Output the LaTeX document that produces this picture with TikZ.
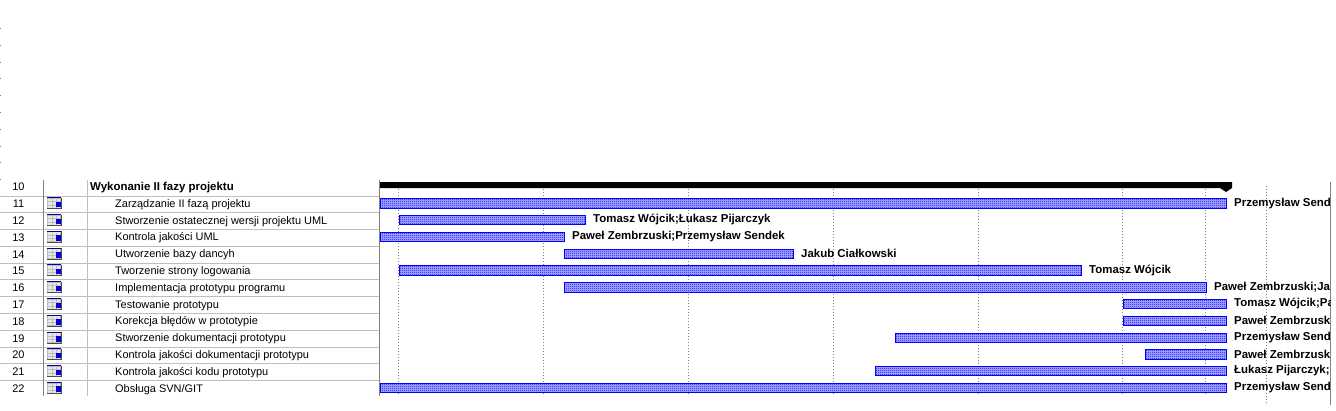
\documentclass[tikz,border=0pt]{standalone}
\usepackage{fontspec}
\setmainfont{Liberation Sans}
\usetikzlibrary{patterns}
\pgfdeclarepatternformonly{ganttcheck}{\pgfqpoint{0pt}{0pt}}{\pgfqpoint{2pt}{2pt}}{\pgfqpoint{2pt}{2pt}}{
    \pgfpathrectangle{\pgfqpoint{0pt}{0pt}}{\pgfqpoint{1pt}{1pt}}
    \pgfpathrectangle{\pgfqpoint{1pt}{1pt}}{\pgfqpoint{1pt}{1pt}}
    \pgfusepath{fill}
}
\definecolor{gridgray}{RGB}{190,190,190}
\definecolor{rulegray}{RGB}{128,128,128}
\definecolor{barblue}{RGB}{0,0,255}
\tikzset{
    rownum/.style={font=\fontsize{11}{12}\selectfont,anchor=center,inner sep=0pt},
    taskname/.style={font=\fontsize{10.97}{12}\selectfont,anchor=west,inner sep=0pt},
    whoname/.style={font=\bfseries\fontsize{11.45}{12}\selectfont,anchor=west,inner sep=0pt},
    ganttbar/.style={draw=barblue,line width=1pt,preaction={fill=barblue!30},pattern=ganttcheck,pattern color=barblue},
    daygrid/.style={rulegray,line width=1pt,dash pattern=on 1pt off 2pt},
}
\newcommand{\tabicon}[1]{
    \draw[fill=gridgray!35,draw=gridgray,line width=0.8pt] (47.5,#1-5) rectangle (60.5,#1+5);
    \draw[gridgray,line width=0.8pt] (52,#1-4) -- (52,#1+5) (56,#1-4) -- (56,#1+5)
        (47.5,#1-1.5) -- (60.5,#1-1.5) (47.5,#1+2) -- (60.5,#1+2);
    \draw[black!70,line width=1pt] (47,#1+5.5) -- (61,#1+5.5) -- (61,#1-5.5);
    \draw[barblue!60!black,line width=1pt] (47,#1-5.5) -- (61,#1-5.5);
    \fill[barblue!85!black] (56,#1-1.5) rectangle (60.5,#1+4);
}
\begin{document}
\begin{tikzpicture}[x=1pt,y=-1pt]
    \useasboundingbox (0,0) rectangle (1336,410);
    \fill[white] (0,0) rectangle (1336,410);

    % Kropki na lewym brzegu.
    \foreach \k in {0,...,9}{
        \fill[rulegray] (0,28+16.8*\k) rectangle (1,29+16.8*\k);
    }

    % Linie tabeli.
    \foreach \k in {0,...,11}{
        \draw[gridgray,line width=1pt] (0,196+16.79*\k) -- (379,196+16.79*\k);
    }
    \draw[rulegray,line width=1pt] (43,180) -- (43,396);
    \draw[gridgray,line width=1pt] (87.5,180) -- (87.5,396);
    \draw[rulegray,line width=1pt] (379.5,180) -- (379.5,396);

    % Pionowe linie czasu.
    \foreach \xx in {398.5,543.5,688.5,833.5,978.5,1122.5,1205.5}{
        \draw[daygrid] (\xx,186) -- (\xx,395);
    }
    \draw[daygrid] (1266.5,186) -- (1266.5,405);
    \draw[rulegray,line width=1pt] (1330.5,182) -- (1330.5,405);

    % Wiersz zbiorczy.
    \node[rownum] (num10) at (18.5,187.2) {10};
    \node[whoname] (task10) at (90,187.2) {Wykonanie II fazy projektu};
    \fill[black] (380,182) -- (1232,182) -- (1232,188) -- (1226,192)
        -- (1220,188) -- (380,188) -- cycle;

    % Zadania.
    \begin{scope}
    \clip (0,0) rectangle (1330,410);
    \foreach \n/\task/\from/\to/\who in {
        11/{Zarządzanie II fazą projektu}/380/1226/{Przemysław Send},
        12/{Stworzenie ostatecznej wersji projektu UML}/399/585/{Tomasz Wójcik;Łukasz Pijarczyk},
        13/{Kontrola jakości UML}/380/564/{Paweł Zembrzuski;Przemysław Sendek},
        14/{Utworzenie bazy dancyh}/564/793/{Jakub Ciałkowski},
        15/{Tworzenie strony logowania}/399/1081/{Tomasz Wójcik},
        16/{Implementacja prototypu programu}/564/1206/{Paweł Zembrzuski;Ja},
        17/{Testowanie prototypu}/1123/1226/{Tomasz Wójcik;Pa},
        18/{Korekcja błędów w prototypie}/1123/1226/{Paweł Zembrzusk},
        19/{Stworzenie dokumentacji prototypu}/895/1226/{Przemysław Send},
        20/{Kontrola jakości dokumentacji prototypu}/1145/1226/{Paweł Zembrzusk},
        21/{Kontrola jakości kodu prototypu}/875/1226/{Łukasz Pijarczyk;},
        22/{Obsługa SVN/GIT}/380/1226/{Przemysław Send}}{
        \pgfmathsetmacro{\yy}{186.5+16.79*(\n-10)}
        \node[rownum] (num\n) at (18.5,\yy+0.7) {\n};
        \tabicon{\yy}
        \node[taskname] (task\n) at (115,\yy+1.2) {\task};
        \draw[ganttbar] (\from,\yy-4.5) rectangle (\to,\yy+4.8);
        \node[whoname] (who\n) at (\to+8,\yy-0.2) {\who};
    }
    \end{scope}
\end{tikzpicture}
\end{document}
